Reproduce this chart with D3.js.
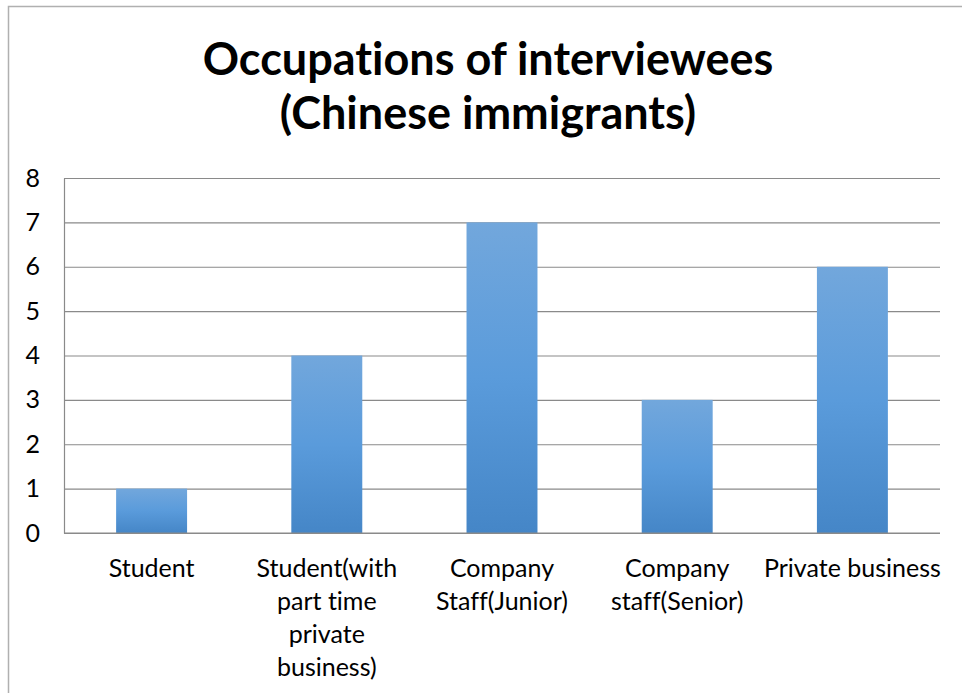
<!DOCTYPE html>
<html>
<head>
<meta charset="utf-8">
<script src="https://cdn.jsdelivr.net/npm/d3@7/dist/d3.min.js"></script>
<style>
  html, body { margin: 0; padding: 0; background: #fff; }
  svg { display: block; }
  text { font-variant-ligatures: none; }
</style>
</head>
<body>
<svg id="chart" width="962" height="693"></svg>
<script>
// Occupation counts of the interviewed Chinese immigrants
const titleLines = ["Occupations of interviewees", "(Chinese immigrants)"];
const categories = [
  "Student",
  "Student(with\npart time\nprivate\nbusiness)",
  "Company\nStaff(Junior)",
  "Company\nstaff(Senior)",
  "Private business"
];
const values = [1, 4, 7, 3, 6];
const yTicks = [0, 1, 2, 3, 4, 5, 6, 7, 8];

const svg = d3.select("#chart");
const W = 962, H = 693;
const plot = { left: 64, right: 940, top: 178, bottom: 533 };
const font = "Lato, 'Open Sans', sans-serif";

// outer chart frame (runs off the right and bottom edges)
svg.append("rect")
  .attr("x", 8.5).attr("y", 6.5)
  .attr("width", W + 20).attr("height", H + 20)
  .attr("fill", "#fff")
  .attr("stroke", "#b0b0b0").attr("stroke-width", 1.5);

// bar fill gradient, light at the top to darker blue at the base
const defs = svg.append("defs");
const grad = defs.append("linearGradient")
  .attr("id", "barFill")
  .attr("x1", 0).attr("y1", 0).attr("x2", 0).attr("y2", 1);
grad.append("stop").attr("offset", "0%").attr("stop-color", "#72a7dc");
grad.append("stop").attr("offset", "50%").attr("stop-color", "#5a9bdb");
grad.append("stop").attr("offset", "100%").attr("stop-color", "#4586c7");

const x = d3.scaleBand()
  .domain(categories)
  .range([plot.left, plot.right])
  .paddingInner(0.595)
  .paddingOuter(0.2975);

const y = d3.scaleLinear()
  .domain([0, 8])
  .range([plot.bottom, plot.top]);

// title
svg.append("g")
  .selectAll("text")
  .data(titleLines)
  .join("text")
  .attr("x", 488)
  .attr("y", (d, i) => 75 + i * 54)
  .attr("text-anchor", "middle")
  .attr("font-family", font)
  .attr("font-weight", "bold")
  .attr("font-size", 45)
  .attr("fill", "#000")
  .text(d => d);

// value axis with gridlines
const yAxis = svg.append("g")
  .attr("transform", `translate(${plot.left},0)`)
  .call(d3.axisLeft(y)
    .tickValues(yTicks)
    .tickFormat(d3.format("d"))
    .tickSize(-(plot.right - plot.left))
    .tickSizeOuter(0)
    .tickPadding(24));
yAxis.select(".domain").attr("stroke", "#8a8a8a").attr("stroke-width", 1.2);
yAxis.selectAll(".tick line").attr("stroke", "#8a8a8a").attr("stroke-width", 1.2);
yAxis.selectAll(".tick text")
  .attr("font-family", font)
  .attr("font-size", 25)
  .attr("fill", "#000");

// bars
svg.append("g")
  .selectAll("rect")
  .data(categories.map((c, i) => ({ c, v: values[i] })))
  .join("rect")
  .attr("x", d => x(d.c))
  .attr("y", d => y(d.v))
  .attr("width", x.bandwidth())
  .attr("height", d => y(0) - y(d.v))
  .attr("fill", "url(#barFill)");

// baseline redrawn over the bars
svg.append("line")
  .attr("x1", plot.left).attr("x2", plot.right)
  .attr("y1", y(0)).attr("y2", y(0))
  .attr("stroke", "#8a8a8a").attr("stroke-width", 1.2);

// category axis with wrapped labels
const xAxis = svg.append("g")
  .attr("transform", `translate(0,${plot.bottom})`)
  .call(d3.axisBottom(x).tickSize(0).tickFormat(""));
xAxis.select(".domain").remove();
xAxis.selectAll(".tick").each(function(d) {
  const t = d3.select(this).append("text")
    .attr("text-anchor", "middle")
    .attr("font-family", font)
    .attr("font-size", 25)
    .attr("fill", "#000");
  d.split("\n").forEach((line, i) => {
    t.append("tspan").attr("x", 0).attr("y", 44 + i * 33).text(line);
  });
});
</script>
</body>
</html>
